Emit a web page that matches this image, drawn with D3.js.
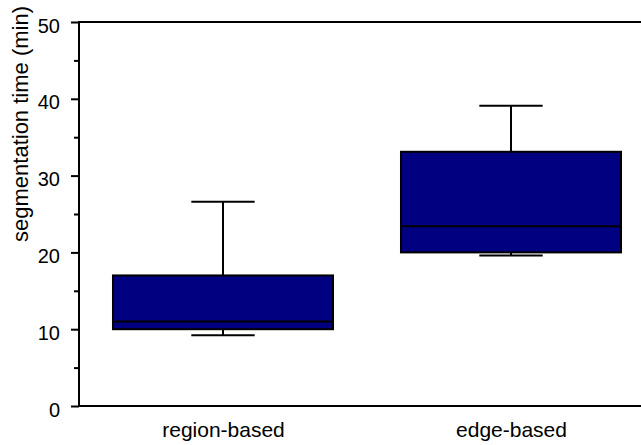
<!DOCTYPE html>
<html>
<head>
<meta charset="utf-8">
<script src="https://cdn.jsdelivr.net/npm/d3@7"></script>
<style>
  body { margin: 0; background: #fff; }
  svg { display: block; font-family: Arial, "Liberation Sans", sans-serif; }
</style>
</head>
<body>
<svg id="chart" width="641" height="445"></svg>
<script>
const categories = ["region-based", "edge-based"];
const whiskerLow = [9.2, 19.6];
const q1 = [10, 20];
const median = [11, 23.4];
const q3 = [17, 33.1];
const whiskerHigh = [26.6, 39.1];
const yMajorTicks = [0, 10, 20, 30, 40, 50];
const yMinorTicks = [5, 15, 25, 35, 45];
const yLabel = "segmentation time (min)";

(function () {
const svg = d3.select("#chart");
const pLeft = 79, pRight = 655, pTop = 22, pBottom = 406;

const x = d3.scalePoint().domain(categories).range([pLeft, pRight]).padding(0.5);
const step = x.step();
const boxW = step * 0.764;
const capW = step * 0.22;
const y = d3.scaleLinear().domain([0, 50]).range([pBottom, pTop]);

// frame
svg.append("rect")
  .attr("x", pLeft).attr("y", pTop)
  .attr("width", pRight - pLeft).attr("height", pBottom - pTop)
  .attr("fill", "none").attr("stroke", "#000").attr("stroke-width", 2);

// y axis major
const yAxis = svg.append("g").attr("transform", `translate(${pLeft},0)`)
  .call(d3.axisLeft(y).tickValues(yMajorTicks).tickSize(8).tickPadding(11).tickFormat(d3.format("d")));
yAxis.select(".domain").remove();
yAxis.selectAll(".tick line").attr("stroke", "#000").attr("stroke-width", 2);
yAxis.selectAll(".tick text").attr("font-size", 20).attr("fill", "#000").attr("dy", "0.5em")
  .attr("font-family", "Arial, 'Liberation Sans', sans-serif");

// y axis minor
const yMinor = svg.append("g").attr("transform", `translate(${pLeft},0)`)
  .call(d3.axisLeft(y).tickValues(yMinorTicks).tickSize(5).tickFormat(""));
yMinor.select(".domain").remove();
yMinor.selectAll(".tick line").attr("stroke", "#000").attr("stroke-width", 2);

// x axis labels
const xAxis = svg.append("g").attr("transform", `translate(0,${pBottom})`)
  .call(d3.axisBottom(x).tickSize(0).tickPadding(16));
xAxis.select(".domain").remove();
xAxis.selectAll(".tick text").attr("font-size", 21).attr("fill", "#000")
  .attr("font-family", "Arial, 'Liberation Sans', sans-serif");

// y label
svg.append("text")
  .attr("transform", `translate(28,124) rotate(-90)`)
  .attr("text-anchor", "middle")
  .attr("font-size", 22)
  .attr("fill", "#000")
  .text(yLabel);

// boxes
const data = categories.map((c, i) => ({c, lo: whiskerLow[i], q1: q1[i], med: median[i], q3: q3[i], hi: whiskerHigh[i]}));
const g = svg.append("g");
data.forEach(d => {
  const cx = x(d.c);
  g.append("line").attr("x1", cx).attr("x2", cx).attr("y1", y(d.q3)).attr("y2", y(d.hi))
    .attr("stroke", "#000").attr("stroke-width", 2);
  g.append("line").attr("x1", cx).attr("x2", cx).attr("y1", y(d.q1)).attr("y2", y(d.lo))
    .attr("stroke", "#000").attr("stroke-width", 2);
  g.append("line").attr("x1", cx - capW / 2).attr("x2", cx + capW / 2).attr("y1", y(d.hi)).attr("y2", y(d.hi))
    .attr("stroke", "#000").attr("stroke-width", 2);
  g.append("line").attr("x1", cx - capW / 2).attr("x2", cx + capW / 2).attr("y1", y(d.lo)).attr("y2", y(d.lo))
    .attr("stroke", "#000").attr("stroke-width", 2);
  g.append("rect").attr("x", cx - boxW / 2).attr("width", boxW)
    .attr("y", y(d.q3)).attr("height", y(d.q1) - y(d.q3))
    .attr("fill", "#000080").attr("stroke", "#000").attr("stroke-width", 2);
  g.append("line").attr("x1", cx - boxW / 2).attr("x2", cx + boxW / 2).attr("y1", y(d.med)).attr("y2", y(d.med))
    .attr("stroke", "#000").attr("stroke-width", 2);
});
})();
</script>
</body>
</html>
